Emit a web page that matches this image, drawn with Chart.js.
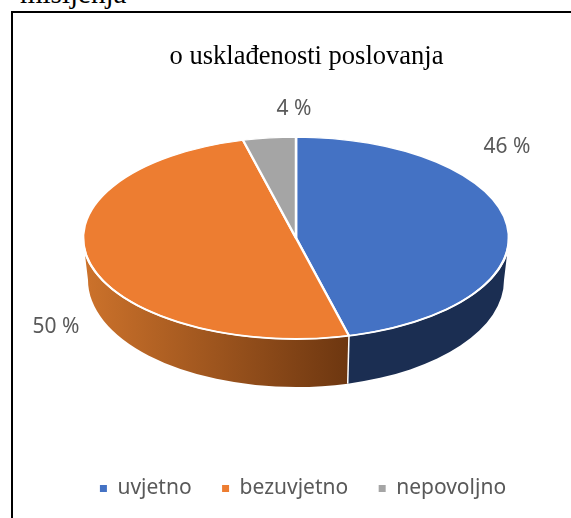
<!DOCTYPE html>
<html>
<head>
<meta charset="utf-8">
<script src="https://cdn.jsdelivr.net/npm/chart.js@4"></script>
<style>
  html, body { margin: 0; padding: 0; background: #fff; overflow: hidden; }
  #page { position: relative; width: 571px; height: 518px; overflow: hidden; }
  #cut-heading { position: absolute; left: 20px; top: -23px; font: 29px "Liberation Serif", serif; color: #000; white-space: nowrap; }
  #frame { position: absolute; left: 11px; top: 11px; width: 600px; height: 560px; border: 2px solid #000; }
  #chart { position: absolute; left: 0; top: 0; }
</style>
</head>
<body>
<div id="page">
  <div id="cut-heading">mišljenja</div>
  <div id="frame"></div>
  <canvas id="chart" width="571" height="518"></canvas>
</div>
<script>
const categories = ['uvjetno', 'bezuvjetno', 'nepovoljno'];
const shares = [46, 50, 4];
const chartTitle = 'o usklađenosti poslovanja';

const sliceColors = ['#4472C4', '#ED7D31', '#A5A5A5'];

// Where the tilted pie sits on the page
const tilt = { x: 296, y: 238, squash: 0.474, lowX: 296, lowY: 280, lowRx: 208, lowRy: 107 };
const labelSpots = [[507, 147], [56, 327], [294, 109]];

function sideFill(ctx, i) {
  if (i !== 1) return '#1B2E52';
  const g = ctx.createLinearGradient(85, 0, 360, 0);
  g.addColorStop(0, '#CC722B');
  g.addColorStop(1, '#69340F');
  return g;
}

const tiltedPie = {
  id: 'tiltedPie',
  beforeDatasetsDraw(chart) {
    // side walls, only the front half of the pie shows them
    const ctx = chart.ctx;
    const arcs = chart.getDatasetMeta(0).data;
    const rx = arcs[0].outerRadius;
    const ry = rx * tilt.squash;
    arcs.forEach((arc, i) => {
      const a = Math.max(arc.startAngle, 0);
      const b = Math.min(arc.endAngle, Math.PI);
      if (b <= a) return;
      ctx.save();
      ctx.beginPath();
      ctx.ellipse(tilt.x, tilt.y, rx, ry, 0, a, b);
      ctx.ellipse(tilt.lowX, tilt.lowY, tilt.lowRx, tilt.lowRy, 0, b, a, true);
      ctx.closePath();
      ctx.fillStyle = sideFill(ctx, i);
      ctx.fill();
      ctx.restore();
    });
    // seam between the walls
    arcs.forEach(arc => {
      const a = arc.startAngle;
      if (a <= 0 || a >= Math.PI) return;
      ctx.save();
      ctx.strokeStyle = '#fff';
      ctx.lineWidth = 1.5;
      ctx.beginPath();
      ctx.moveTo(tilt.x + rx * Math.cos(a), tilt.y + ry * Math.sin(a));
      ctx.lineTo(tilt.lowX + tilt.lowRx * Math.cos(a), tilt.lowY + tilt.lowRy * Math.sin(a));
      ctx.stroke();
      ctx.restore();
    });
    // top face: squash the library's circular arcs into an ellipse
    const c = arcs[0];
    ctx.save();
    ctx.translate(tilt.x, tilt.y);
    ctx.scale(1, tilt.squash);
    ctx.translate(-c.x, -c.y);
  },
  afterDatasetsDraw(chart) {
    const ctx = chart.ctx;
    ctx.restore();
    // white rim along the front edge
    const rx = chart.getDatasetMeta(0).data[0].outerRadius;
    ctx.save();
    ctx.strokeStyle = '#fff';
    ctx.lineWidth = 2;
    ctx.beginPath();
    ctx.ellipse(tilt.x, tilt.y, rx, rx * tilt.squash, 0, 0, Math.PI);
    ctx.stroke();
    ctx.restore();
  },
  afterDraw(chart) {
    const ctx = chart.ctx;
    ctx.save();
    ctx.textAlign = 'center';
    ctx.textBaseline = 'middle';
    ctx.fillStyle = '#000';
    ctx.font = '26.5px "Liberation Serif", serif';
    ctx.fillText(chartTitle, 306.5, 57);
    ctx.fillStyle = '#595959';
    ctx.font = '21px "Noto Sans", sans-serif';
    shares.forEach((v, i) => {
      ctx.fillText(v + ' %', labelSpots[i][0], labelSpots[i][1]);
    });
    ctx.restore();
  }
};

new Chart(document.getElementById('chart'), {
  type: 'pie',
  data: {
    labels: categories,
    datasets: [{
      data: shares,
      backgroundColor: sliceColors,
      borderColor: '#fff',
      borderWidth: 2.5,
      clip: false
    }]
  },
  options: {
    responsive: false,
    animation: false,
    radius: 213,
    layout: { padding: { left: 35, bottom: 9 } },
    plugins: {
      tooltip: { enabled: false },
      title: { display: false },
      legend: {
        position: 'bottom',
        labels: {
          usePointStyle: true,
          pointStyle: 'rect',
          boxWidth: 7,
          boxHeight: 7,
          padding: 30.5,
          color: '#595959',
          font: { family: '"Noto Sans", sans-serif', size: 21 },
          generateLabels(chart) {
            // no white outline on the legend markers
            return Chart.overrides.pie.plugins.legend.labels.generateLabels(chart)
              .map(item => ({ ...item, lineWidth: 0 }));
          }
        }
      }
    }
  },
  plugins: [tiltedPie]
});
</script>
</body>
</html>
